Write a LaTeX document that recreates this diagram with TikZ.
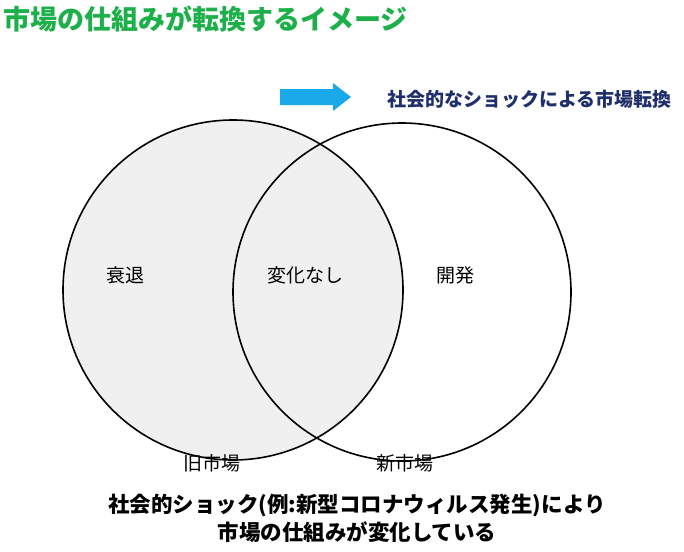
\documentclass[tikz,border=0pt]{standalone}
\usepackage{fontspec}
\setmainfont{Noto Sans CJK JP}
\definecolor{ttl}{HTML}{1DB04A}
\definecolor{navy}{HTML}{1F2F6B}
\definecolor{cyanA}{HTML}{19A8E8}
\tikzset{lbl/.style={font=\fontsize{19}{22}\selectfont},
 circ/.style={draw=black,line width=1.6pt}}
\begin{document}
\begin{tikzpicture}[x=1pt,y=-1pt]
\useasboundingbox (0,0) rectangle (684,551);
\node[anchor=west,text=ttl,font=\fontsize{27}{30}\selectfont\bfseries] (title) at (0,19) {市場の仕組みが転換するイメージ};
\fill[cyanA] (280,89) -- (333,89) -- (333,83) -- (351,97) -- (333,111) -- (333,105) -- (280,105) -- cycle;
\node[anchor=west,text=navy,font=\fontsize{19}{22}\selectfont\bfseries] (shock) at (384,99) {社会的なショックによる市場転換};
\draw[circ,fill=gray!12] (233,290) circle[radius=170];
\draw[circ] (402,292) circle[radius=169];
\node[lbl] (a) at (125,275) {衰退};
\node[lbl] (b) at (305,275) {変化なし};
\node[lbl] (c) at (455,275) {開発};
\node[lbl] (d) at (212,463) {旧市場};
\node[lbl] (e) at (405,463) {新市場};
\node[align=center,font=\fontsize{21.5}{28}\selectfont\bfseries] (f) at (357,518) {社会的ショック(例:新型コロナウィルス発生)により\\市場の仕組みが変化している};
\end{tikzpicture}
\end{document}
